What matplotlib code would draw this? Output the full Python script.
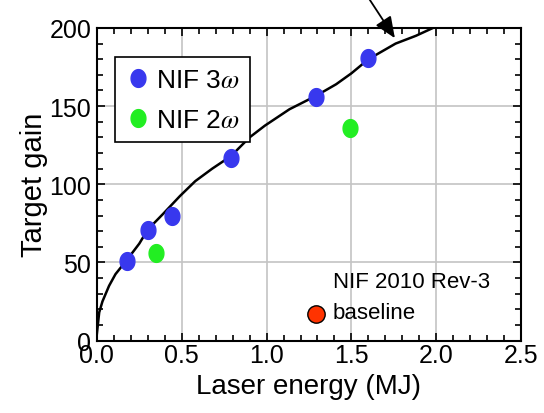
import numpy as np
import matplotlib.pyplot as plt
from matplotlib.lines import Line2D
from matplotlib.path import Path
from matplotlib.ticker import MultipleLocator, FormatStrFormatter

plt.rcParams['font.family'] = ['Liberation Sans', 'DejaVu Sans']
plt.rcParams['mathtext.fontset'] = 'stix'

# point data
nif3_energy = [0.18, 0.30, 0.44, 0.79, 1.29, 1.60]
nif3_gain = [51, 71, 80, 117, 156, 181]
nif2_energy = [0.35, 1.49]
nif2_gain = [56, 136]
base_energy = [1.29]
base_gain = [17]

# gain curve
curve_energy = [0.0, 0.005, 0.014, 0.033, 0.072, 0.11, 0.18, 0.25, 0.30, 0.39, 0.49, 0.58,
                0.68, 0.79, 0.90, 0.99, 1.135, 1.29, 1.41, 1.50, 1.60, 1.76, 1.88, 1.98, 2.01]
curve_gain = [4, 9, 18, 25, 35, 42.5, 52, 62, 71, 81, 92.5, 102,
              110, 118, 130, 137.5, 148, 156.5, 164, 171, 180, 190, 195, 200, 202]

# slightly tall ellipse marker
t = np.linspace(0, 2 * np.pi, 60)
oval = Path(np.column_stack([np.cos(t), 1.2 * np.sin(t)]))

fig = plt.figure(figsize=(5.44, 4.14), dpi=100)
ax = fig.add_axes([0.178, 0.175, 0.780, 0.755])

ax.plot(curve_energy, curve_gain, color='black', lw=1.8, zorder=3)
ax.plot(nif3_energy, nif3_gain, ls='none', marker=oval, ms=12.8, mfc='#3838ee', mec='#3838ee', zorder=4)
ax.plot(nif2_energy, nif2_gain, ls='none', marker=oval, ms=12.8, mfc='#22ee22', mec='#22ee22', zorder=4)
ax.plot(base_energy, base_gain, ls='none', marker='o', ms=12.5, mfc='#ff3300', mec='black', mew=1.0, zorder=4)

ax.annotate('', xy=(1.765, 192), xytext=(1.56, 226), xycoords='data',
            arrowprops=dict(arrowstyle='-|>,head_length=1.3,head_width=0.55', color='black', lw=1.3),
            annotation_clip=False)

ax.text(1.39, 38, 'NIF 2010 Rev-3', fontsize=16, va='center', ha='left')
ax.text(1.39, 18, 'baseline', fontsize=16, va='center', ha='left')

ax.set_xlim(0, 2.5)
ax.set_ylim(0, 200)
ax.xaxis.set_major_locator(MultipleLocator(0.5))
ax.xaxis.set_minor_locator(MultipleLocator(0.1))
ax.xaxis.set_major_formatter(FormatStrFormatter('%.1f'))
ax.yaxis.set_major_locator(MultipleLocator(50))
ax.yaxis.set_minor_locator(MultipleLocator(10))
ax.tick_params(which='both', direction='in', top=True, right=True, labelsize=18, width=1.2)
ax.tick_params(axis='x', pad=2)
ax.tick_params(axis='y', pad=4)
ax.tick_params(which='major', length=6)
ax.tick_params(which='minor', length=4)
for s in ax.spines.values():
    s.set_linewidth(1.5)
ax.grid(True, which='major', color='#c4c4c4', lw=1.2)
ax.set_axisbelow(True)

ax.set_xlabel('Laser energy (MJ)', fontsize=20, labelpad=4)
ax.set_ylabel('Target gain', fontsize=21, labelpad=1)

handles = [Line2D([], [], ls='none', marker=oval, ms=12.8, mfc='#3838ee', mec='#3838ee'),
           Line2D([], [], ls='none', marker=oval, ms=12.8, mfc='#22ee22', mec='#22ee22')]
leg = ax.legend(handles, [r'NIF 3$\omega$', r'NIF 2$\omega$'], loc='upper left',
                bbox_to_anchor=(0.042, 0.906), fontsize=19, frameon=True, fancybox=False,
                edgecolor='black', framealpha=1, handletextpad=0.15, handlelength=1.0,
                borderpad=0.4, labelspacing=0.6, borderaxespad=0)
leg.get_frame().set_linewidth(1.2)

fig.savefig('out.png', dpi=100)
